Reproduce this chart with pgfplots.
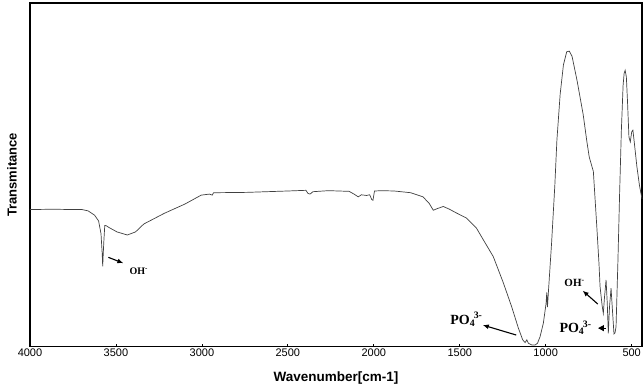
\documentclass[border=0pt]{standalone}
\usepackage{fontspec}
\setmainfont{Liberation Sans}
\newfontfamily\timesfont{Liberation Serif}
\usepackage{pgfplots}
\pgfplotsset{compat=1.18}
\usetikzlibrary{arrows.meta}
\begin{document}
\begin{tikzpicture}
\begin{axis}[name=ax,
  scale only axis, width=612pt, height=343.7pt,
  x dir=reverse, xmin=440, xmax=4000, ymin=0, ymax=100,
  xtick={500,1000,...,4000}, ytick=\empty,
  tick align=inside, major tick length=3pt, tick pos=bottom,
  tick style={black, line width=0.8pt},
  /pgf/number format/assume math mode=true,
  /pgf/number format/1000 sep={},
  xticklabel style={font=\fontsize{11}{12}\selectfont, inner sep=0pt, yshift=-1.5pt},
  axis line style={line width=1.3pt},
  xlabel={Wavenumber[cm-1]},
  xlabel style={font=\fontsize{13.5}{14}\selectfont\bfseries, at={(axis description cs:0.5,-0.0901)}, anchor=center},
  ylabel={Transmitance},
  ylabel style={font=\fontsize{13}{14}\selectfont\bfseries, at={(axis description cs:-0.0294,0.5)}, anchor=center},
  clip=false,
]
\addplot[color=black!75, line width=0.7pt] coordinates {
(4000,39.9) (3864,40.0) (3750,39.9) (3697,39.9) (3661,39.5) (3625,38.3) (3601,36.6) (3587,32.9) (3580,27.1) (3577,23.4) (3574,27) (3570,31) (3565,35.3) (3560,35.3) (3541,34.7) (3494,33.4) (3434,32.5) (3386,33.4) (3338,35.7) (3219,38.8) (3099,41.5) (3004,44.1) (2956,44.4) (2940,44.1) (2932,44.8) (2741,44.9) (2502,45.3) (2395,45.5) (2383,44.6) (2371,44.4) (2354,45.1) (2263,45.4) (2144,45.2) (2115,44.4) (2091,43.6) (2072,44.2) (2043,44.0) (2024,44.2) (2012,42.8) (2005,42.6) (1996,45.3) (1953,45.4) (1881,45.3) (1785,44.8) (1714,43.6) (1678,41.7) (1654,39.7) (1630,40.2) (1596,40.8) (1560,40.0) (1523,39.0) (1460,37.4) (1403,34.5) (1363,31.1) (1305,26.2) (1246,18.5) (1198,11.6) (1159,5.4) (1134,2.0) (1120,1.2) (1110,2.0) (1101,1.0) (1081,0.5) (1062,0.5) (1048,1.0) (1033,2.9) (1014,6.8) (998,12.6) (994,15.8) (990,11.5) (985,15.5) (966,30.1) (947,47.0) (935,60.1) (916,73.5) (897,82.0) (878,85.8) (863,86.0) (847,84.5) (818,77.5) (800,72.5) (782,67.5) (761,59.8) (747,55.2) (723,51.0) (713,43.0) (703,35.0) (690,24.0) (684,17.5) (672,12.0) (665,9.7) (658,14.5) (649,19.4) (642,12.6) (636,3.9) (629,11.6) (620,17.0) (612,10.7) (603,3.7) (597,4.0) (591,5.8) (580,25.0) (570,45.0) (560,63.0) (550,76.0) (544,79.5) (538,80.4) (531,78.5) (524,71.0) (516,61.0) (508,59.6) (500,62.5) (493,63.0) (485,59.5) (470,52.5) (455,47.0) (440,43.0)
};
\node[anchor=base west, inner sep=0pt, font=\timesfont\bfseries\fontsize{10}{12}\selectfont] at (axis cs:3422,21.05) {OH\textsuperscript{-}};
\draw[line width=1.1pt, -{Latex[length=6pt,width=5pt]}] (axis cs:3544,26.0) -- (axis cs:3457,24.3);
\node[anchor=base west, inner sep=0pt, font=\timesfont\bfseries\fontsize{14}{16}\selectfont] at (axis cs:1556,6.6) {PO\textsubscript{4}\kern-0.1em\textsuperscript{3-}};
\draw[line width=1.1pt, -{Latex[length=6pt,width=5pt]}] (axis cs:1172,3.4) -- (axis cs:1366,6.3);
\node[anchor=base west, inner sep=0pt, font=\timesfont\bfseries\fontsize{11}{12}\selectfont] at (axis cs:892,17.5) {OH\textsuperscript{-}};
\draw[line width=1.1pt, -{Latex[length=6pt,width=5pt]}] (axis cs:697,12.4) -- (axis cs:785,16.3);
\node[anchor=base west, inner sep=0pt, font=\timesfont\bfseries\fontsize{14}{16}\selectfont] at (axis cs:921,4.1) {PO\textsubscript{4}\kern-0.1em\textsuperscript{3-}};
\draw[line width=1.1pt, -{Triangle[length=6pt,width=6pt]}] (axis cs:649,5.4) -- (axis cs:696,5.4);
\end{axis}
\pgfresetboundingbox
\path[use as bounding box] ([xshift=-30pt,yshift=-44.3pt]ax.south west) rectangle ([xshift=2pt,yshift=3pt]ax.north east);
\end{tikzpicture}
\end{document}
